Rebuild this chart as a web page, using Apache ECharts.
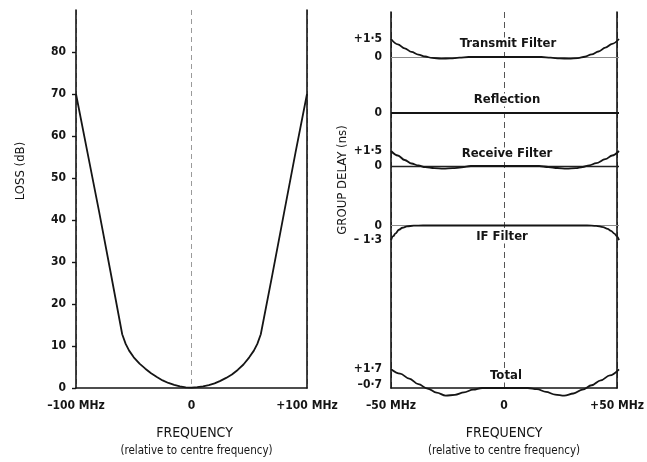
<!DOCTYPE html>
<html>
<head>
<meta charset="utf-8">
<script src="https://cdn.jsdelivr.net/npm/echarts@6/dist/echarts.min.js"></script>
<style>
  html, body { margin: 0; padding: 0; background: #fff; }
  #chart { width: 647px; height: 462px; }
</style>
</head>
<body>
<div id="chart"></div>
<script>
// ---- Loss response (left panel) ----
const lossFreq = [-100, -90, -80, -70, -60, -57, -54, -50, -45, -40, -35, -30, -25, -20, -15, -10, -5, 0,
                  5, 10, 15, 20, 25, 30, 35, 40, 45, 50, 54, 57, 60, 70, 80, 90, 100];
const lossDb   = [70, 56, 42, 27.5, 12.8, 10.5, 8.9, 7.3, 5.8, 4.6, 3.5, 2.6, 1.8, 1.2, 0.75, 0.4, 0.15, 0.1,
                   0.2, 0.4, 0.7, 1.1, 1.7, 2.4, 3.2, 4.3, 5.6, 7.3, 8.9, 10.5, 12.8, 27, 41.5, 56, 70];
const lossTicks = [0, 10, 20, 30, 40, 50, 60, 70, 80];
const lossFreqTicks = [[-100, '\u2013100 MHz'], [0, '0'], [100, '+100 MHz']];

// ---- Group delay traces (right panel), values in ns ----
const txFreq  = [-50, -47, -44, -41, -38, -35, -32, -28, -24, -20, -16, 0, 16, 20, 24, 28, 32, 35, 38, 41, 44, 47, 50];
const txDelay = [1.5, 1.05, 0.72, 0.42, 0.2, 0.04, -0.08, -0.13, -0.12, -0.05, 0, 0, 0, -0.06, -0.12, -0.13, -0.09, 0.02, 0.22, 0.46, 0.78, 1.1, 1.5];

const reflFreq  = [-50, 50];
const reflDelay = [0, 0];

const rxFreq  = [-50, -47, -44, -41, -38, -35, -31, -27, -23, -19, -15, 0, 15, 19, 23, 27, 31, 34, 37, 40, 44, 47, 50];
const rxDelay = [1.5, 1.05, 0.6, 0.25, 0.05, -0.12, -0.22, -0.26, -0.22, -0.14, 0, 0, 0, -0.1, -0.2, -0.27, -0.22, -0.1, 0.07, 0.28, 0.68, 1.05, 1.5];

const ifFreq  = [-50, -49, -48, -46.5, -45, -43, -40, -36, 0, 36, 40, 43, 45, 46.5, 48, 49, 50];
const ifDelay = [-1.3, -0.95, -0.7, -0.38, -0.2, -0.08, -0.01, 0, 0, 0, -0.03, -0.14, -0.3, -0.48, -0.72, -0.95, -1.3];

const totFreq  = [-50, -46, -42, -38, -34, -30, -26, -22, -18, -14, -10, 0, 10, 14, 18, 22, 26, 30, 34, 38, 42, 46, 50];
const totDelay = [1.7, 1.3, 0.85, 0.35, -0.05, -0.42, -0.7, -0.62, -0.4, -0.15, 0, 0, 0, -0.1, -0.35, -0.6, -0.7, -0.5, -0.15, 0.25, 0.7, 1.15, 1.7];

const gdFreqTicks = [[-50, '\u201350 MHz'], [0, '0'], [50, '+50 MHz']];
const txTicks   = [[0, '0'], [1.5, '+1\u00b75']];
const reflTicks = [[0, '0']];
const rxTicks   = [[0, '0'], [1.5, '+1\u00b75']];
const ifTicks   = [[0, '0'], [-1.3, '\u2013 1\u00b73']];
const totTicks  = [[1.7, '+1\u00b77'], [-0.7, '\u20130\u00b77']];

const traceNames = ['Transmit Filter', 'Reflection', 'Receive Filter', 'IF Filter', 'Total'];

// ---- layout ----
const FONT = '"Liberation Sans Narrow", "DejaVu Sans Condensed", "Liberation Sans", sans-serif';
const INK = '#151515';
const R_LEFT = 391, R_WIDTH = 228;

function band(base, pxPerNs, lo, hi) {
  return { left: R_LEFT, width: R_WIDTH, top: base - hi * pxPerNs, height: (hi - lo) * pxPerNs };
}
const bands = [
  { range: [-1, 2],     grid: band(57, 12, -1, 2) },
  { range: [-1, 1],     grid: band(113, 12, -1, 1) },
  { range: [-1, 2],     grid: band(166, 10, -1, 2) },
  { range: [-1.5, 0.5], grid: band(225.5, 11.2, -1.5, 0.5) },
  { range: [-1, 2],     grid: band(388, 11, -1, 2) }
];

const pairs = (xs, ys) => xs.map((x, i) => [x, ys[i]]);
const labelMap = (ticks) => {
  const m = {};
  ticks.forEach(t => { m[t[0]] = t[1]; });
  return m;
};

const tickFont = { fontFamily: FONT, fontSize: 12, fontWeight: 'bold', color: INK };
const frameLine = { show: true, onZero: false, lineStyle: { color: INK, width: 1.6 } };

const grids = [
  { left: 76, top: 10, width: 231, height: 378 },         // loss
  { left: R_LEFT, top: 12, width: R_WIDTH, height: 377 }  // group delay frame
].concat(bands.map(b => b.grid));

const lossXMap = labelMap(lossFreqTicks);
const gdXMap = labelMap(gdFreqTicks);

const xAxes = [
  {
    gridIndex: 0, type: 'value', min: -100, max: 100, interval: 100,
    axisLine: frameLine,
    axisTick: { show: false },
    splitLine: { show: true, lineStyle: { color: '#9a9a9a', width: 1, type: [5, 4] } },
    axisLabel: Object.assign({ margin: 12, formatter: v => lossXMap[v] }, tickFont),
    name: '{a|FREQUENCY}\n{b|(relative to centre frequency)}',
    nameLocation: 'middle', nameGap: 36,
    nameTextStyle: {
      rich: {
        a: { fontFamily: FONT, fontSize: 14, color: INK, lineHeight: 19, padding: [0, 0, 0, 6] },
        b: { fontFamily: FONT, fontSize: 11.5, color: INK, lineHeight: 16, padding: [0, 0, 0, 10] }
      }
    }
  },
  {
    gridIndex: 1, type: 'value', min: -50, max: 50, interval: 50,
    axisLine: frameLine,
    axisTick: { show: false },
    splitLine: { show: true, lineStyle: { color: '#555', width: 1, type: [6, 4] } },
    axisLabel: Object.assign({ margin: 12, formatter: v => gdXMap[v] }, tickFont),
    name: '{a|FREQUENCY}\n{b|(relative to centre frequency)}',
    nameLocation: 'middle', nameGap: 36,
    nameTextStyle: {
      rich: {
        a: { fontFamily: FONT, fontSize: 14, color: INK, lineHeight: 19 },
        b: { fontFamily: FONT, fontSize: 11.5, color: INK, lineHeight: 16 }
      }
    }
  }
].concat(bands.map((b, i) => ({ gridIndex: i + 2, type: 'value', min: -50, max: 50, show: false })));

const traceTicks = [txTicks, reflTicks, rxTicks, ifTicks, totTicks];

const yAxes = [
  {
    gridIndex: 0, type: 'value', min: 0, max: 90, interval: 10,
    axisLine: frameLine,
    axisTick: { show: true, length: 4, lineStyle: { color: INK, width: 1.4 }, customValues: lossTicks },
    splitLine: { show: false },
    axisLabel: Object.assign({ margin: 10, customValues: lossTicks }, tickFont),
    name: 'LOSS (dB)', nameLocation: 'middle', nameRotate: 90, nameGap: 49,
    nameTextStyle: { fontFamily: FONT, fontSize: 13, color: INK, padding: [0, 0, 0, 56] }
  },
  {
    gridIndex: 0, type: 'value', min: 0, max: 90, position: 'right',
    axisLine: frameLine,
    axisTick: { show: false }, axisLabel: { show: false }, splitLine: { show: false }
  },
  {
    gridIndex: 1, type: 'value', min: 0, max: 1,
    axisLine: frameLine,
    axisTick: { show: false }, axisLabel: { show: false }, splitLine: { show: false },
    name: 'GROUP DELAY (ns)', nameLocation: 'middle', nameRotate: 90, nameGap: 42,
    nameTextStyle: { fontFamily: FONT, fontSize: 13, color: INK, padding: [0, 0, 0, 40] }
  },
  {
    gridIndex: 1, type: 'value', min: 0, max: 1, position: 'right',
    axisLine: frameLine,
    axisTick: { show: false }, axisLabel: { show: false }, splitLine: { show: false }
  }
].concat(bands.map((b, i) => {
  const ticks = traceTicks[i];
  const map = labelMap(ticks);
  const isTotal = i === 4;
  return {
    gridIndex: i + 2, type: 'value', min: b.range[0], max: b.range[1],
    axisLine: { show: false, onZero: false }, axisTick: { show: false }, splitLine: { show: false },
    axisLabel: Object.assign({
      margin: 9,
      customValues: ticks.map(t => t[0]),
      formatter: v => (isTotal && v < 0) ? '{lift|' + map[v] + '}' : map[v],
      rich: { lift: { fontFamily: FONT, fontSize: 12, fontWeight: 'bold', color: INK, padding: [0, 0, 22, 0] } }
    }, tickFont)
  };
}));

const baselineStyle = [
  { color: '#8a8a8a', width: 1 },
  null,
  { color: '#222', width: 1.3 },
  { color: '#8a8a8a', width: 1 },
  null
];

const traceData = [
  pairs(txFreq, txDelay),
  pairs(reflFreq, reflDelay),
  pairs(rxFreq, rxDelay),
  pairs(ifFreq, ifDelay),
  pairs(totFreq, totDelay)
];

const series = [
  {
    type: 'line', xAxisIndex: 0, yAxisIndex: 0,
    data: pairs(lossFreq, lossDb),
    symbol: 'none', smooth: false,
    lineStyle: { color: INK, width: 1.8, join: 'round' }
  }
].concat(traceData.map((d, i) => {
  const s = {
    type: 'line', name: traceNames[i], xAxisIndex: i + 2, yAxisIndex: i + 4,
    data: d, symbol: 'none', smooth: i === 1 ? false : 0.35, smoothMonotone: 'x',
    lineStyle: { color: INK, width: i === 1 ? 2 : 1.8 }, z: 3
  };
  if (baselineStyle[i]) {
    s.markLine = {
      silent: true, symbol: 'none', label: { show: false },
      lineStyle: Object.assign({ type: 'solid' }, baselineStyle[i]),
      data: [{ yAxis: 0 }], z: 2
    };
  }
  return s;
}));

// trace captions across the centre line
const captionPos = [[508, 44], [507, 100], [507, 154], [502, 237], [506, 376]];
const graphic = traceNames.map((t, i) => ({
  type: 'text', x: captionPos[i][0], y: captionPos[i][1], z: 10,
  style: {
    text: t, fontFamily: FONT, fontSize: 13, fontWeight: 'bold', fill: INK,
    align: 'center', verticalAlign: 'middle',
    backgroundColor: '#fff', padding: [0, 2]
  }
}));

const chart = echarts.init(document.getElementById('chart'), null, { renderer: 'canvas' });
chart.setOption({
  backgroundColor: '#fff',
  animation: false,
  grid: grids,
  xAxis: xAxes,
  yAxis: yAxes,
  series: series,
  graphic: graphic
});
</script>
</body>
</html>
